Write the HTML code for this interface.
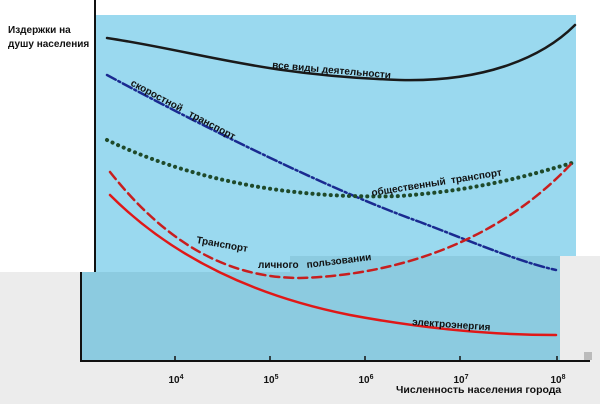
<!DOCTYPE html>
<html><head><meta charset="utf-8"><style>
html,body{margin:0;padding:0;background:#fff}
svg{display:block}
text{font-family:"Liberation Sans",sans-serif;font-weight:bold;fill:#111}
</style></head><body>
<svg width="600" height="404" viewBox="0 0 600 404">
<rect x="0" y="0" width="600" height="404" fill="#fff"/>
<polygon points="96,15 576,15 576,256 290,256 290,272 96,272" fill="#9ad9ef"/>
<line x1="95" y1="0" x2="95" y2="272" stroke="#111" stroke-width="2"/>
<polygon points="0,272 290,272 290,256 600,256 600,404 0,404" fill="#ececec"/>
<polygon points="80,272 290,272 290,256 560,256 560,361 80,361" fill="#8ccbe0"/>
<line x1="81" y1="272" x2="81" y2="362" stroke="#111" stroke-width="2"/>
<line x1="80" y1="361" x2="590" y2="361" stroke="#111" stroke-width="2"/>
<rect x="584" y="352" width="8" height="8" fill="#bbb"/>
<g stroke="#111" stroke-width="1.5">
<line x1="175" y1="356" x2="175" y2="361"/><line x1="270" y1="356" x2="270" y2="361"/>
<line x1="365" y1="356" x2="365" y2="361"/><line x1="460" y1="356" x2="460" y2="361"/>
<line x1="557" y1="356" x2="557" y2="361"/></g>
<g fill="none" stroke-linecap="round">
<path d="M107,38 C200,52 260,75 400,80 C480,82 540,60 575,25" stroke="#1a1a1a" stroke-width="2.5"/>
<path d="M107,75 C200,125 330,190 420,222 C480,245 520,262 556,270" stroke="#1a2a90" stroke-width="2.5" stroke-dasharray="10,3,2,3"/>
<path d="M107,140 C180,175 280,200 400,196 C480,190 530,175 572,163" stroke="#1f4a2a" stroke-width="4" stroke-dasharray="0.1,6"/>
<path d="M110,172 C160,235 220,278 300,278 C400,275 500,240 572,163" stroke="#c81e1e" stroke-width="2.5" stroke-dasharray="9,5"/>
<path d="M110,195 C170,255 250,295 350,315 C430,330 500,335 556,335" stroke="#e01818" stroke-width="2.5"/>
</g>
<text x="8" y="33" font-size="10">Издержки на</text>
<text x="8" y="47" font-size="10">душу населения</text>
<text x="272" y="68" font-size="10" transform="rotate(5 272 68)">все виды деятельности</text>
<text x="130" y="85" font-size="10" transform="rotate(28 130 85)">скоростной&#160;&#160; транспорт</text>
<text x="372" y="196" font-size="10" transform="rotate(-9 372 196)">общественный&#160; транспорт</text>
<text x="196" y="243" font-size="10" transform="rotate(10 196 243)">Транспорт</text>
<text x="258" y="268" font-size="10">личного</text>
<text x="307" y="268" font-size="10" transform="rotate(-7 307 268)">пользовании</text>
<text x="412" y="325" font-size="10" transform="rotate(4 412 325)">электроэнергия</text>
<g font-size="10" text-anchor="middle">
<text x="176" y="383">10<tspan font-size="7" dy="-4">4</tspan></text>
<text x="271" y="383">10<tspan font-size="7" dy="-4">5</tspan></text>
<text x="366" y="383">10<tspan font-size="7" dy="-4">6</tspan></text>
<text x="461" y="383">10<tspan font-size="7" dy="-4">7</tspan></text>
<text x="558" y="383">10<tspan font-size="7" dy="-4">8</tspan></text>
</g>
<text x="396" y="393" font-size="10.5">Численность населения города</text>
</svg>
</body></html>
